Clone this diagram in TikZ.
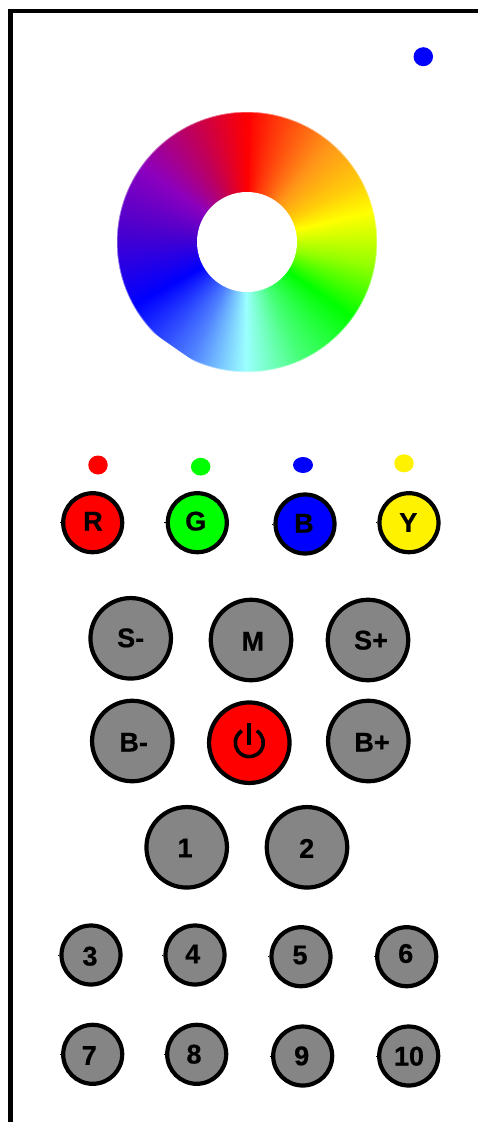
\documentclass[tikz,border=0pt]{standalone}
\usepackage{fontspec}
\setmainfont{Liberation Sans}[BoldFeatures={FakeBold=0.6}]
\usetikzlibrary{shapes.geometric}
\newcommand\lab[3]{\smash{\makebox[0pt]{\hspace*{#1pt}\hspace*{#1pt}\raisebox{\dimexpr #2pt-9.5pt\relax}{#3}}}}
\tikzset{
  x=1pt,y=-1pt,
  btn/.style={circle,draw=black,line width=4.2pt,inner sep=0pt,text=black,font=\fontsize{27}{30}\selectfont\bfseries},
  bigbtn/.style={btn,minimum size=80.5pt},
  midbtn/.style={btn,minimum size=59pt},
  grey/.style={fill=keygrey},
  led/.style={ellipse,inner sep=0pt,minimum width=19.5pt,minimum height=19pt},
}
\definecolor{keygrey}{RGB}{133,133,133}
\definecolor{wc}{rgb}{1,0,0}
\begin{document}
\begin{tikzpicture}
\useasboundingbox (0,0) rectangle (478,1122);
\fill[white] (0,0) rectangle (478,1122);
% frame
\draw[line width=4.2pt,black] (10.5,1122) -- (10.5,11) -- (478,11);
% colour wheel: clockwise angle from top, RGB stops
\coordinate (wheel) at (247,242);
\foreach \a/\r/\g/\b/\A/\R/\G/\B in {
  0/255/0/0/12/255/50/10,
  12/255/50/10/40/255/150/25,
  40/255/150/25/62/255/205/10,
  62/255/205/10/76/255/255/0,
  76/255/255/0/100/150/255/0,
  100/150/255/0/125/0/255/0,
  125/0/255/0/155/70/255/120,
  155/70/255/120/180/155/255/255,
  180/155/255/255/205/80/130/255,
  205/80/130/255/240/0/0/255,
  240/0/0/255/275/75/0/205,
  275/75/0/205/305/140/0/190,
  305/140/0/190/335/195/0/85,
  335/195/0/85/360/255/0/0}{
  \pgfmathtruncatemacro{\n}{\A-\a-1}
  \foreach \k in {0,...,\n}{
    \pgfmathsetmacro{\t}{\k/(\A-\a)}
    \pgfmathsetmacro{\cr}{(\r+(\R-\r)*\t)/255}
    \pgfmathsetmacro{\cg}{(\g+(\G-\g)*\t)/255}
    \pgfmathsetmacro{\cb}{(\b+(\B-\b)*\t)/255}
    \definecolor{wc}{rgb}{\cr,\cg,\cb}
    \pgfmathsetmacro{\u}{90-\a-\k}
    \pgfmathsetmacro{\v}{\u-2.5}
    \pgfmathsetmacro{\w}{\u-1.25}
    \fill[wc] ([shift={(\u:48pt)}]wheel) -- ([shift={(\u:130pt)}]wheel) -- ([shift={(\w:130pt)}]wheel) -- ([shift={(\v:130pt)}]wheel) -- ([shift={(\v:48pt)}]wheel) -- cycle;
  }
}
\draw[white,opacity=.45,line width=1.2pt] (wheel) circle[radius=130pt];
% the two flattened stretches of the rim
\fill[white] (370,293.3) -- (348.3,326.7) -- (365,342) -- (388,305) -- cycle;
\fill[white] (153,332.8) -- (196.7,363.3) -- (185,378) -- (141,346) -- cycle;
\fill[white] (wheel) circle[radius=50pt];
% LEDs
\node[led,fill=blue]   (ledtop) at (423.3,56.7) {};
\node[led,fill=red]    (ledr) at (98,465) {};
\node[led,fill=green,minimum height=17.7pt]  (ledg) at (200.7,466.7) {};
\node[led,fill=blue,minimum width=20pt,minimum height=16pt]   (ledb) at (303,465) {};
\node[led,fill=yellow,minimum height=18pt] (ledy) at (404,463.3) {};
% colour keys
\node[midbtn,fill=red]    (kr) at (92.7,522.7) {\lab{0.3}{1.7}{R}};
\node[midbtn,fill=green]  (kg) at (197.3,522.7) {\lab{-1.6}{1.7}{G}};
\node[midbtn,fill=blue]   (kb) at (305,524) {\lab{-1}{1}{B}};
\node[midbtn,fill=yellow] (ky) at (409,522.7) {\lab{-0.7}{0.4}{Y}};
% large keys
\node[bigbtn,grey] (ksm) at (130.7,638.3) {\lab{0}{0.6}{S-}};
\node[bigbtn,grey] (km)  at (251,640) {\lab{1.8}{-1}{M}};
\node[bigbtn,grey] (ksp) at (368,640) {\lab{3}{0}{S+}};
\node[bigbtn,grey] (kbm) at (132.3,741) {\lab{1.4}{-1}{B-}};
\node[bigbtn,fill=red] (kpow) at (249.3,742.7) {};
\node[bigbtn,grey] (kbp) at (368.3,741) {\lab{3.7}{-1}{B+}};
\node[bigbtn,grey] (k1) at (186.7,847.3) {\lab{-1.7}{-0.4}{1}};
\node[bigbtn,grey] (k2) at (307,847.3) {\lab{-0.3}{-1}{2}};
% power symbol
\draw[line width=3.6pt,black] ([shift={(58:14pt)}]kpow.center) arc[start angle=58,end angle=-238,radius=14pt];
\draw[line width=3.8pt,black] ([yshift=20pt]kpow.center) -- ([yshift=-2pt]kpow.center);
% number keys
\node[midbtn,grey] (k3) at (91,955) {\lab{-1}{-1}{3}};
\node[midbtn,grey] (k4) at (195,955) {\lab{-2.3}{1.3}{4}};
\node[midbtn,grey] (k5) at (301,956.7) {\lab{-1}{2}{5}};
\node[midbtn,grey] (k6) at (406.7,956.7) {\lab{-1}{3.4}{6}};
\node[midbtn,grey] (k7) at (92.7,1054.3) {\lab{-3.4}{-1}{7}};
\node[midbtn,grey] (k8) at (196.7,1054.3) {\lab{-2.7}{0.3}{8}};
\node[midbtn,grey] (k9) at (302.7,1056) {\lab{-1}{0.3}{9}};
\node[midbtn,grey] (k10) at (408.7,1056) {\lab{0.3}{0}{10}};
% small nick on the left of each smaller key
\foreach \n in {kr,kg,kb,ky,k3,k4,k5,k6,k7,k8,k9,k10}
  \draw[line width=1pt,black] (\n.west) -- ++(-1.5,0);
\end{tikzpicture}
\end{document}
